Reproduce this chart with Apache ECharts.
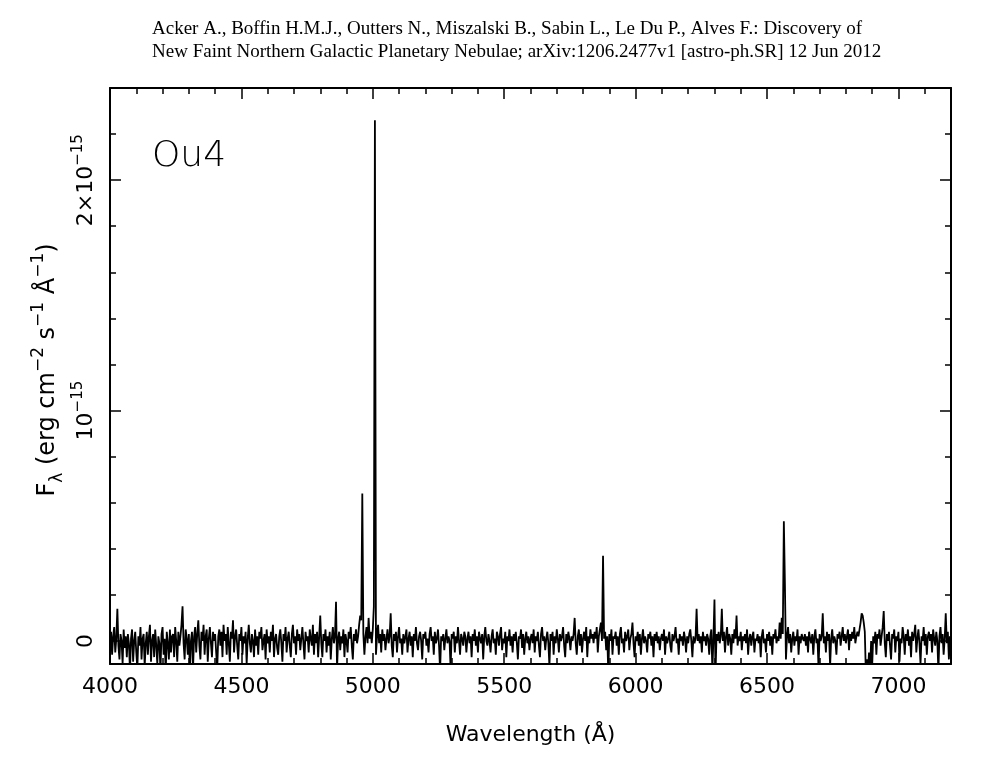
<!DOCTYPE html>
<html>
<head>
<meta charset="utf-8">
<script src="https://cdn.jsdelivr.net/npm/echarts@6/dist/echarts.min.js"></script>
<style>
html,body{margin:0;padding:0;background:#fff;}
#chart{width:987px;height:760px;}
</style>
</head>
<body>
<div id="chart"></div>
<script>
// Spectrum of Ou4: regular wavelength grid (Å) and flux in units of 1e-15 erg cm^-2 s^-1 Å^-1
const lambdaStart = 4000;
const lambdaStep = 4;
const flux = [
  -0.01, 0.04, -0.06, 0.02, 0.06, -0.05, 0.01, 0.14, -0.02, -0.08, 0.03, 0.00, -0.10, 0.05, -0.03, 0.02, -0.07, 0.03, -0.01, -0.13,
  0.01, 0.05, -0.09, 0.00, 0.04, -0.05, -0.12, 0.02, -0.02, 0.06, -0.08, 0.01, 0.03, -0.11, -0.01, 0.04, -0.06, 0.02, 0.07, -0.09,
  0.00, 0.03, -0.07, 0.05, -0.02, -0.10, 0.02, -0.01, -0.13, 0.03, 0.06, -0.06, 0.01, -0.14, 0.04, -0.01, -0.08, 0.05, -0.05, 0.02,
  0.03, -0.07, 0.06, 0.00, -0.09, 0.04, -0.02, 0.02, 0.07, 0.15, -0.01, -0.08, 0.05, 0.01, -0.06, 0.03, -0.14, 0.00, 0.04, -0.12,
  0.02, 0.06, -0.05, 0.03, 0.09, -0.02, -0.08, 0.04, 0.00, 0.07, -0.06, 0.02, 0.05, -0.09, 0.01, 0.06, -0.01, -0.07, 0.04, 0.00,
  0.03, -0.05, -0.12, 0.02, 0.05, -0.02, 0.04, -0.07, 0.07, 0.00, 0.03, -0.06, 0.06, -0.01, -0.09, 0.04, 0.01, 0.09, -0.05, 0.02,
  0.05, -0.02, -0.08, 0.03, 0.00, 0.06, -0.06, 0.02, -0.01, 0.04, -0.10, 0.01, 0.07, -0.01, -0.05, 0.03, 0.00, -0.07, 0.05, -0.02,
  0.02, -0.06, 0.04, 0.01, 0.06, -0.04, 0.00, 0.03, -0.08, 0.05, -0.01, 0.02, -0.05, 0.04, 0.00, 0.07, -0.07, 0.01, 0.03, -0.03,
  -0.06, 0.02, 0.05, -0.01, -0.09, 0.03, 0.00, 0.06, -0.05, 0.01, 0.04, -0.02, -0.07, 0.03, 0.07, -0.01, 0.02, -0.06, 0.05, 0.00,
  0.03, -0.04, 0.01, 0.06, -0.01, -0.08, 0.04, 0.00, 0.02, -0.05, 0.05, 0.01, -0.02, 0.07, -0.06, 0.03, -0.01, 0.04, -0.07, 0.02,
  0.11, -0.01, -0.07, 0.03, 0.00, 0.05, -0.05, 0.02, -0.02, 0.04, -0.08, 0.01, 0.06, -0.01, 0.02, 0.17, -0.12, 0.01, 0.04, -0.04,
  0.02, -0.01, 0.05, -0.07, 0.03, 0.00, -0.05, 0.04, 0.01, 0.06, -0.02, -0.08, 0.03, 0.00, 0.05, -0.01, 0.02, 0.07, 0.11, 0.09,
  0.64, 0.03, -0.06, 0.02, 0.06, -0.01, 0.10, 0.01, 0.04, -0.01, 0.05, 0.15, 2.26, -0.06, 0.02, 0.07, -0.01, 0.03, -0.05, 0.05,
  0.00, 0.03, -0.04, 0.01, 0.05, -0.01, 0.02, 0.12, -0.02, -0.07, 0.03, 0.00, 0.04, -0.05, 0.02, 0.06, -0.01, 0.01, -0.06, 0.03,
  -0.01, 0.02, 0.05, -0.05, 0.01, 0.04, -0.02, 0.02, -0.07, 0.03, 0.00, 0.06, -0.01, -0.04, 0.02, 0.04, 0.00, -0.08, 0.03, 0.01,
  0.04, -0.02, 0.01, -0.05, 0.03, 0.06, 0.00, 0.02, -0.06, 0.04, -0.01, 0.01, 0.05, -0.02, -0.13, 0.02, 0.00, 0.03, -0.04, 0.01,
  0.05, -0.01, 0.02, 0.00, -0.12, 0.03, 0.01, 0.04, -0.05, 0.02, -0.01, 0.06, 0.00, -0.06, 0.03, 0.01, -0.02, 0.04, 0.02, -0.05,
  0.01, 0.04, -0.01, 0.02, -0.07, 0.03, 0.00, 0.05, -0.02, 0.02, -0.05, 0.04, 0.01, -0.01, 0.03, -0.08, 0.02, 0.06, 0.00, -0.02,
  0.03, 0.00, -0.05, 0.02, 0.05, -0.01, 0.01, -0.06, 0.04, 0.02, -0.02, 0.03, 0.06, -0.04, 0.01, -0.01, 0.04, -0.07, 0.02, 0.00,
  0.05, -0.02, 0.02, -0.05, 0.03, 0.00, 0.04, -0.01, -0.08, 0.02, 0.01, 0.05, -0.03, 0.03, -0.06, 0.01, 0.04, -0.01, 0.02, -0.04,
  0.01, 0.03, -0.01, 0.05, -0.05, 0.02, 0.00, 0.04, -0.02, -0.07, 0.03, 0.06, 0.00, 0.02, -0.04, 0.01, 0.04, -0.01, -0.11, 0.03,
  0.00, 0.04, -0.06, 0.02, -0.01, 0.05, 0.01, -0.05, 0.03, 0.00, 0.02, 0.06, -0.02, -0.07, 0.03, -0.01, 0.04, 0.01, -0.04, 0.02,
  0.00, 0.03, 0.10, -0.01, -0.06, 0.02, 0.05, -0.02, 0.03, -0.05, 0.01, 0.04, 0.00, 0.06, -0.07, 0.02, -0.01, 0.05, 0.01, 0.03,
  -0.01, 0.04, 0.01, 0.06, -0.05, 0.02, 0.05, 0.08, 0.00, 0.37, 0.01, 0.04, -0.04, 0.02, -0.14, 0.03, 0.00, 0.05, -0.06, 0.02,
  0.01, 0.04, -0.02, 0.02, -0.06, 0.03, 0.06, -0.01, 0.01, -0.05, 0.04, 0.00, 0.02, 0.05, -0.04, 0.01, 0.03, 0.08, -0.01, -0.07,
  0.02, 0.00, 0.04, -0.02, 0.03, -0.06, 0.01, 0.05, -0.01, 0.02, 0.00, -0.05, 0.03, 0.01, 0.04, -0.02, 0.02, -0.07, 0.03, 0.00,
  0.04, -0.01, 0.02, -0.04, 0.01, 0.03, 0.00, 0.05, -0.06, 0.02, -0.01, 0.01, 0.04, -0.02, -0.05, 0.03, 0.00, 0.02, 0.06, -0.01,
  0.01, -0.06, 0.03, 0.00, 0.02, -0.02, 0.04, 0.01, -0.05, 0.02, -0.01, 0.03, 0.05, 0.00, -0.07, 0.02, -0.01, 0.01, 0.14, 0.00,
  0.03, -0.01, 0.02, -0.05, 0.04, 0.00, 0.02, -0.02, 0.03, 0.01, -0.06, 0.02, 0.05, -0.13, 0.01, 0.18, -0.14, 0.03, 0.00, 0.04,
  -0.01, 0.02, 0.14, 0.00, 0.04, -0.05, 0.02, 0.06, -0.02, 0.03, 0.01, -0.06, 0.03, -0.01, 0.05, 0.01, 0.11, -0.02, 0.02, 0.00,
  0.04, -0.04, 0.02, 0.00, 0.03, -0.01, 0.05, -0.06, 0.01, 0.03, -0.02, 0.02, 0.04, -0.05, 0.01, 0.00, 0.03, -0.01, 0.02, -0.07,
  0.02, 0.05, -0.01, 0.01, -0.05, 0.03, 0.00, 0.04, -0.02, 0.02, -0.06, 0.03, 0.01, 0.05, -0.01, 0.02, 0.00, 0.08, 0.01, 0.10,
  0.03, 0.52, 0.25, -0.08, 0.02, 0.06, -0.01, 0.03, -0.05, 0.01, 0.04, -0.02, 0.02, 0.00, 0.05, -0.06, 0.02, -0.01, 0.03, 0.01,
  0.00, 0.03, -0.02, 0.02, -0.05, 0.04, 0.01, -0.01, 0.03, -0.06, 0.02, 0.05, -0.01, 0.01, -0.12, 0.03, 0.00, 0.02, 0.12, -0.01,
  0.02, -0.05, 0.04, 0.00, 0.03, -0.11, 0.01, 0.05, -0.01, 0.02, 0.00, -0.06, 0.03, 0.01, 0.04, -0.02, 0.02, 0.06, 0.00, 0.03,
  -0.01, 0.02, 0.05, -0.04, 0.03, 0.00, 0.04, 0.01, 0.06, -0.01, 0.02, 0.04, 0.02, 0.05, 0.08, 0.12, 0.11, 0.08, 0.04, -0.14,
  -0.08, -0.13, -0.05, -0.14, 0.00, -0.11, 0.02, -0.01, 0.04, -0.06, 0.03, 0.01, 0.05, -0.02, 0.02, 0.06, 0.13, -0.01, -0.07, 0.03,
  0.00, 0.04, -0.02, -0.08, 0.03, 0.01, 0.05, -0.05, 0.02, 0.00, 0.04, -0.09, 0.01, -0.01, 0.06, 0.02, -0.06, 0.03, 0.00, 0.05,
  -0.02, 0.02, -0.07, 0.04, 0.00, 0.03, 0.07, -0.05, 0.01, 0.05, -0.01, -0.10, 0.02, 0.00, 0.06, -0.02, 0.03, -0.06, 0.02, 0.04,
  0.00, 0.03, -0.05, 0.05, 0.01, -0.02, 0.04, 0.00, -0.13, 0.02, 0.06, -0.01, 0.03, -0.06, 0.01, 0.12, -0.01, 0.04, -0.08, 0.02,
  0.01
];
const xMajorTicks = [4000, 4500, 5000, 5500, 6000, 6500, 7000];
const xMinorTicks = [4100,4200,4300,4400,4600,4700,4800,4900,5100,5200,5300,5400,5600,5700,5800,5900,6100,6200,6300,6400,6600,6700,6800,6900,7100];
const yMajorTicks = [0, 1, 2];
const yMinorTicks = [0.2,0.4,0.6,0.8,1.2,1.4,1.6,1.8,2.2];
const yTickLabels = {0: '{b|0}', 1: '{b|10}{s|−15}', 2: '{b|2×10}{s|−15}'};
const titleLines = [
  'Acker A., Boffin H.M.J., Outters N., Miszalski B., Sabin L., Le Du P., Alves F.: Discovery of',
  'New Faint Northern Galactic Planetary Nebulae; arXiv:1206.2477v1 [astro-ph.SR] 12 Jun 2012'
];
const objectName = 'Ou4';

const seriesData = flux.map((f, i) => [lambdaStart + i * lambdaStep, f]);

const FONT = 'DejaVu Sans';
const lineCol = '#000';
const xRange = [4000, 7200];
const yRange = [-0.1, 2.4];

function xAxisDef(pos, ticks, len, showLine, showLabel) {
  return {
    type: 'value', position: pos, min: xRange[0], max: xRange[1],
    axisLine: {show: showLine, onZero: false, lineStyle: {color: lineCol, width: 2}},
    axisTick: {show: true, inside: true, length: len, customValues: ticks, lineStyle: {color: lineCol, width: 1.5}},
    axisLabel: {show: showLabel, customValues: ticks, formatter: v => String(v),
      color: '#000', fontFamily: FONT, fontSize: 22, margin: 12},
    splitLine: {show: false}
  };
}
function yAxisDef(pos, ticks, len, showLine, showLabel) {
  return {
    type: 'value', position: pos, min: yRange[0], max: yRange[1],
    axisLine: {show: showLine, onZero: false, lineStyle: {color: lineCol, width: 2}},
    axisTick: {show: true, inside: true, length: len, customValues: ticks, lineStyle: {color: lineCol, width: 1.5}},
    axisLabel: {
      show: showLabel, customValues: ticks, rotate: 90, margin: 9,
      formatter: v => yTickLabels[Math.round(v)] || '',
      rich: {
        b: {fontFamily: FONT, fontSize: 22, color: '#000', lineHeight: 30},
        s: {fontFamily: FONT, fontSize: 15, color: '#000', lineHeight: 15, verticalAlign: 'top'}
      }
    },
    splitLine: {show: false}
  };
}

const xAxes = [
  xAxisDef('bottom', xMajorTicks, 11, true, true),
  xAxisDef('bottom', xMinorTicks, 6, false, false),
  xAxisDef('top', xMajorTicks, 11, true, false),
  xAxisDef('top', xMinorTicks, 6, false, false)
];
xAxes[0].name = 'Wavelength (Å)';
xAxes[0].nameLocation = 'middle';
xAxes[0].nameGap = 60;
xAxes[0].nameTextStyle = {fontFamily: FONT, fontSize: 22, color: '#000'};

const yAxes = [
  yAxisDef('left', yMajorTicks, 11, true, true),
  yAxisDef('left', yMinorTicks, 6, false, false),
  yAxisDef('right', yMajorTicks, 11, true, false),
  yAxisDef('right', yMinorTicks, 6, false, false)
];
yAxes[0].name = '{m|F}{sub|λ}{m| (erg cm}{sup|−2}{m| s}{sup|−1}{m| Å}{sup|−1}{m|)}';
yAxes[0].nameLocation = 'middle';
yAxes[0].nameRotate = 90;
yAxes[0].nameGap = 44;
yAxes[0].nameMoveOverlap = false;
yAxes[0].nameTextStyle = {
  padding: [0, 0, 0, 12],
  rich: {
    m: {fontFamily: FONT, fontSize: 24, color: '#000', lineHeight: 36},
    sup: {fontFamily: FONT, fontSize: 17, color: '#000', lineHeight: 17, verticalAlign: 'top'},
    sub: {fontFamily: FONT, fontSize: 17, color: '#000', lineHeight: 17, verticalAlign: 'bottom'}
  }
};

const chart = echarts.init(document.getElementById('chart'), null, {renderer: 'canvas'});
chart.setOption({
  animation: false,
  backgroundColor: '#fff',
  title: {
    text: titleLines.join('\n'),
    left: 147, top: 13,
    textStyle: {fontFamily: 'Liberation Serif', fontSize: 19, fontWeight: 'normal', color: '#000', lineHeight: 23}
  },
  graphic: [{
    type: 'text', left: 152, top: 139,
    style: {text: objectName, fontFamily: FONT, fontSize: 36, fontWeight: 200, fill: '#000'}
  }],
  grid: {left: 110, right: 36, top: 88, bottom: 96, containLabel: false, outerBoundsMode: 'none'},
  xAxis: xAxes,
  yAxis: yAxes,
  series: [{
    type: 'line', xAxisIndex: 0, yAxisIndex: 0,
    data: seriesData, showSymbol: false, symbol: 'none', clip: true,
    lineStyle: {color: '#000', width: 1.8}, sampling: null
  }]
});
</script>
</body>
</html>
